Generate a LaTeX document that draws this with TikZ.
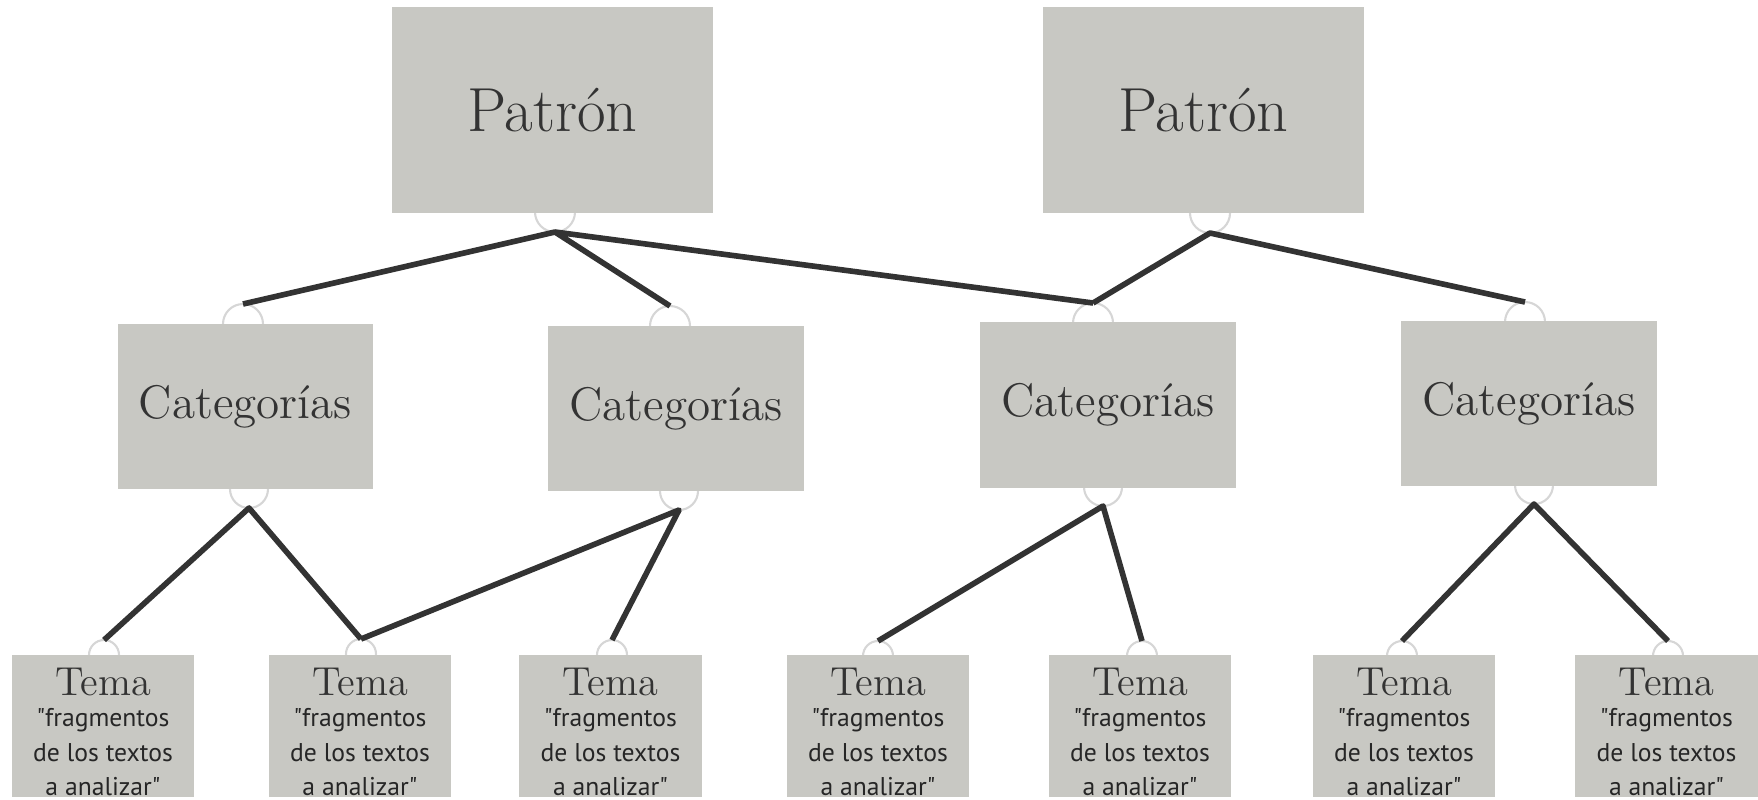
\documentclass[tikz,border=0pt]{standalone}
\usepackage{fontspec}
\newfontfamily\ptsans{PT Sans}
\usetikzlibrary{calc}
\definecolor{cajagris}{HTML}{C8C8C3}
\definecolor{lineagris}{HTML}{333333}
\definecolor{puertogris}{HTML}{D6D6D6}
\tikzset{
    caja/.style={fill=cajagris, inner sep=0pt, text=lineagris},
    patron/.style={caja, minimum width=3.2cm, minimum height=2.06cm, font=\fontsize{17.7}{20}\selectfont},
    categoria/.style={caja, minimum width=2.55cm, minimum height=1.65cm, font=\fontsize{13.4}{16}\selectfont},
    tema/.style={caja, minimum width=1.82cm, minimum height=1.42cm},
    temanom/.style={anchor=base, inner sep=0pt, text=lineagris, font=\fontsize{11.5}{13}\selectfont},
    fragmento/.style={anchor=north, inner sep=0pt, align=center, text=black!85, font=\ptsans\fontsize{7.3}{9.8}\selectfont},
    rama/.style={draw=lineagris, line width=1.6pt, line join=round},
    puerto/.style={draw=puertogris, line width=0.6pt}
}
\begin{document}
\begin{tikzpicture}[x=0.01cm,y=-0.01cm]
    \useasboundingbox (0,0) rectangle (1758,799);
    % puertos
    \foreach \px/\py/\r in {555/212/20, 1210/213/20,
        243/324/20, 670/326/20, 1093/323/20, 1525/322/20,
        249/489/19, 679/491/19, 1103/487/19, 1534/485/19,
        104/655/15, 361/654/15, 612/655/15, 878/656/15, 1142/656/15, 1402/656/15, 1668/656/15}
        \draw[puerto] (\px,\py) circle[radius=\r];
    % cajas
    \node[patron] (p1) at (552.5,110) {Patrón};
    \node[patron] (p2) at (1203.5,110) {Patrón};
    \node[categoria] (c1) at (245.5,406.5) {Categorías};
    \node[categoria] (c2) at (676,408.5) {Categorías};
    \node[categoria] (c3) at (1108,405) {Categorías};
    \node[categoria] (c4) at (1529,403.5) {Categorías};
    \foreach \n/\tx in {1/103, 2/360, 3/610.5, 4/878, 5/1140, 6/1404, 7/1666.5} {
        \node[tema] (t\n) at (\tx,726) {};
        \node[temanom] (t\n n) at (\tx,695) {Tema};
        \node[fragmento] (t\n f) at (\tx,708) {"fragmentos\\de los textos\\a analizar"};
    }
    % puntos de union
    \coordinate (p1b) at (555,232);
    \coordinate (p2b) at (1210,233);
    \coordinate (c1a) at (243,304);
    \coordinate (c2a) at (670,306);
    \coordinate (c3a) at (1093,303);
    \coordinate (c4a) at (1525,302);
    \coordinate (c1b) at (249,508);
    \coordinate (c2b) at (679,510);
    \coordinate (c3b) at (1103,506);
    \coordinate (c4b) at (1534,504);
    \coordinate (t1a) at (104,640);
    \coordinate (t2a) at (361,639);
    \coordinate (t3a) at (612,640);
    \coordinate (t4a) at (878,641);
    \coordinate (t5a) at (1142,641);
    \coordinate (t6a) at (1402,641);
    \coordinate (t7a) at (1668,641);
    % ramas
    \draw[rama] (c1a) -- (p1b) -- (c2a) (p1b) -- (c3a);
    \draw[rama] (c3a) -- (p2b) -- (c4a);
    \draw[rama] (t1a) -- (c1b) -- (t2a);
    \draw[rama] (t2a) -- (c2b) -- (t3a);
    \draw[rama] (t4a) -- (c3b) -- (t5a);
    \draw[rama] (t6a) -- (c4b) -- (t7a);
\end{tikzpicture}
\end{document}
